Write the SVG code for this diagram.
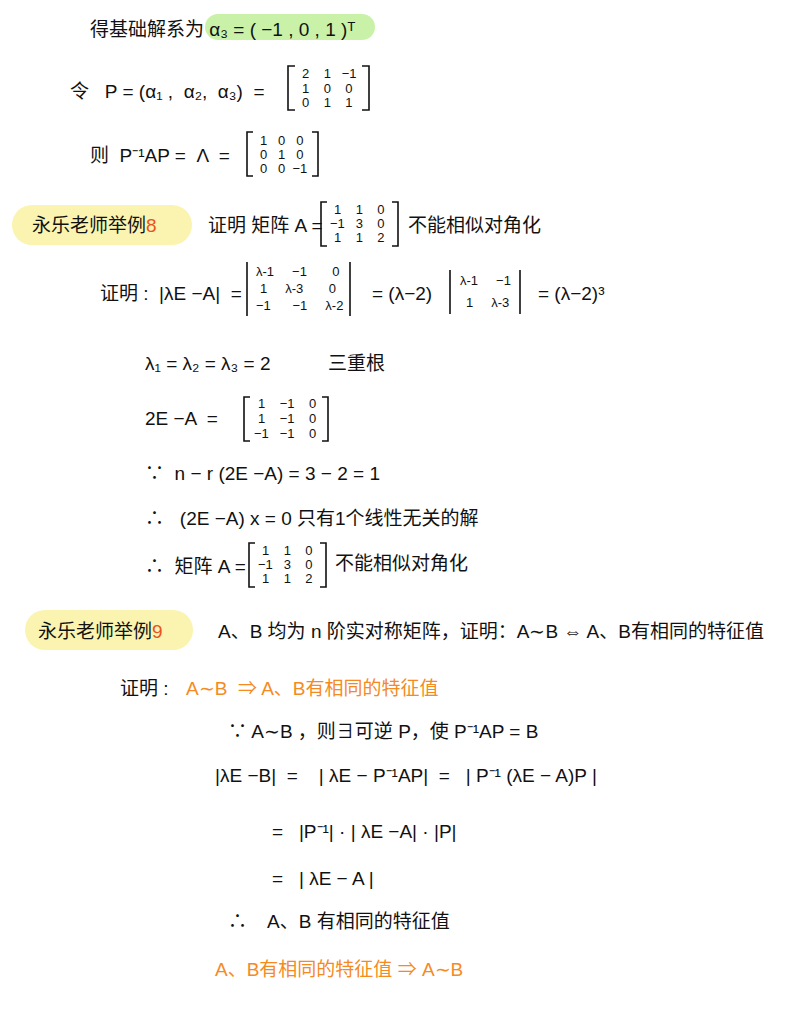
<svg xmlns="http://www.w3.org/2000/svg" width="800" height="1035" viewBox="0 0 800 1035" xml:space="preserve">
<style>
text{font-family:"Liberation Sans","Noto Sans CJK SC",sans-serif;fill:#111;font-size:19px;white-space:pre}
.s{font-size:13px}
.o{fill:#f58a1f}
.r{fill:#e8531e}
.b{fill:none;stroke:#111;stroke-width:1.6}
</style>
<rect width="800" height="1035" fill="#fff"/>
<g id="highlights">
<rect x="205" y="14" width="170" height="26" rx="13" fill="#c9f2a8"/>
<rect x="12" y="205" width="180" height="40" rx="20" fill="#fbf4b0"/>
<rect x="25" y="610" width="168" height="40" rx="20" fill="#fbf4b0"/>
</g>
<g id="line1"><text x="90" y="36">得基础解系为 α₃ = ( −1 , 0 , 1 )ᵀ</text></g>
<g id="line2"><text x="70" y="98">令   P = (α₁ ,  α₂,  α₃)  =</text>
<path class="b" d="M295 66h-7v44h7M362 66h7v44h-7"/>
<text class="s" x="302" y="78">2    1   −1</text><text class="s" x="302" y="93">1    0    0</text><text class="s" x="302" y="107">0    1    1</text></g>
<g id="line3"><text x="90" y="162">则  P⁻¹AP =  Λ  =</text>
<path class="b" d="M253 132h-6v44h6M312 132h6v44h-6"/>
<text class="s" x="260" y="145">1   0   0</text><text class="s" x="260" y="159">0   1   0</text><text class="s" x="260" y="173">0   0  −1</text></g>
<g id="ex8"><text x="32" y="232" font-size="20">永乐老师举例<tspan class="r">8</tspan></text>
<text x="208" y="232">证明 矩阵 A =</text>
<path class="b" d="M327 202h-6v44h6M392 202h6v44h-6"/>
<text class="s" x="334" y="214">1    1    0</text><text class="s" x="330" y="228">−1   3    0</text><text class="s" x="334" y="242">1    1    2</text>
<text x="408" y="232">不能相似对角化</text></g>
<g id="proof8">
<text x="100" y="300" font-size="15">证明 :  |λE −A|  =</text>
<path class="b" d="M247 262v54M350 262v54"/>
<text class="s" x="256" y="276">λ-1     −1       0</text><text class="s" x="260" y="293">1     λ-3       0</text><text class="s" x="256" y="310">−1      −1     λ-2</text>
<text x="372" y="300">= (λ−2)</text>
<path class="b" d="M450 270v44M520 270v44"/>
<text class="s" x="460" y="285">λ-1     −1</text><text class="s" x="466" y="307">1     λ-3</text>
<text x="538" y="300">= (λ−2)³</text>
<text x="145" y="370">λ₁ = λ₂ = λ₃ = 2</text><text x="328" y="370">三重根</text>
<text x="145" y="425">2E −A  =</text>
<path class="b" d="M250 397h-6v44h6M322 397h6v44h-6"/>
<text class="s" x="258" y="408">1    −1    0</text><text class="s" x="258" y="423">1    −1    0</text><text class="s" x="254" y="438">−1   −1    0</text>
<text x="145" y="480">∵  n − r (2E −A) = 3 − 2 = 1</text>
<text x="145" y="525">∴   (2E −A) x = 0 只有1个线性无关的解</text>
<text x="145" y="573">∴  矩阵 A =</text>
<path class="b" d="M255 543h-6v44h6M320 543h6v44h-6"/>
<text class="s" x="262" y="555">1    1    0</text><text class="s" x="258" y="569">−1   3    0</text><text class="s" x="262" y="583">1    1    2</text>
<text x="335" y="570">不能相似对角化</text></g>
<g id="ex9"><text x="38" y="638" font-size="20">永乐老师举例<tspan class="r">9</tspan></text>
<text x="218" y="638">A、B 均为 n 阶实对称矩阵，证明：A∼B ⇔ A、B有相同的特征值</text></g>
<g id="proof9">
<text x="120" y="695" font-size="15">证明 :</text><text class="o" x="186" y="695">A∼B  ⇒ A、B有相同的特征值</text>
<text x="228" y="738">∵ A∼B ，则∃可逆 P，使 P⁻¹AP = B</text>
<text x="215" y="782">|λE −B|  =    | λE − P⁻¹AP|  =   | P⁻¹ (λE − A)P |</text>
<text x="272" y="838">=   |P⁻¹| · | λE −A| · |P|</text>
<text x="272" y="885">=   | λE − A |</text>
<text x="228" y="928">∴    A、B 有相同的特征值</text>
<text class="o" x="215" y="976">A、B有相同的特征值 ⇒ A∼B</text></g>
</svg>
